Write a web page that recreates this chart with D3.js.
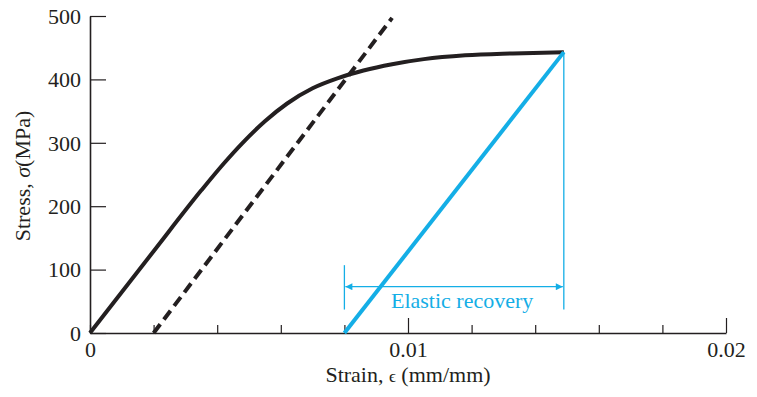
<!DOCTYPE html>
<html>
<head>
<meta charset="utf-8">
<script src="https://cdn.jsdelivr.net/npm/d3@7"></script>
<style>
  body { margin: 0; background: #fff; }
  svg { display: block; font-family: "Liberation Serif", "Times New Roman", serif; }
</style>
</head>
<body>
<div id="chart"></div>
<script>
// Stress-strain curve (strain in mm/mm, stress in MPa)
const curveStrain = [0, 0.002, 0.0035, 0.0042, 0.0048, 0.0055, 0.0062, 0.0070, 0.0078, 0.0086, 0.0095, 0.0105, 0.0118, 0.0133, 0.0149];
const curveStress = [0, 129, 225, 267, 300, 334, 362, 386, 402, 414, 424, 432, 438, 441, 443];

// 0.2% offset line
const offsetStrain = [0.002, 0.0095];
const offsetStress = [0, 497];

// unloading line
const unloadStrain = [0.008, 0.0149];
const unloadStress = [0, 443];

// elastic recovery span
const recoveryFrom = 0.008;
const recoveryTo = 0.0149;

const xTicks = [0, 0.002, 0.004, 0.006, 0.008, 0.01, 0.012, 0.014, 0.016, 0.018, 0.02];
const xMajor = [0, 0.01, 0.02];
const yTicks = [0, 100, 200, 300, 400, 500];

const W = 757, H = 397;
const margin = { top: 16, right: 31, bottom: 64, left: 90 };
const width = W - margin.left - margin.right;
const height = H - margin.top - margin.bottom;

const black = "#231f20";
const blue = "#14aee6";
const fs = "22px";

const svg = d3.select("#chart").append("svg")
    .attr("width", W)
    .attr("height", H);

const chart = svg.append("g")
    .attr("transform", `translate(${margin.left},${margin.top})`);

const x = d3.scaleLinear().domain([0, 0.02]).range([0, width]);
const y = d3.scaleLinear().domain([0, 500]).range([height, 0]);

const isMajor = d => xMajor.some(m => Math.abs(m - d) < 1e-9);

// x axis, ticks pointing up
const xAxis = chart.append("g")
    .attr("transform", `translate(0,${height})`)
    .call(d3.axisBottom(x)
        .tickValues(xTicks)
        .tickSizeInner(-8)
        .tickSizeOuter(0)
        .tickPadding(8)
        .tickFormat(d => isMajor(d) ? (d === 0 ? "0" : d3.format(".2f")(d)) : ""));
xAxis.selectAll(".tick line")
    .filter(d => d > 0 && isMajor(d))
    .attr("y2", -15);

// y axis, ticks pointing right
const yAxis = chart.append("g")
    .call(d3.axisLeft(y)
        .tickValues(yTicks)
        .tickSizeInner(-16)
        .tickSizeOuter(0)
        .tickPadding(9));

[xAxis, yAxis].forEach(a => {
    a.select(".domain").attr("stroke", black).attr("stroke-width", 1.6);
    a.selectAll(".tick line").attr("stroke", black).attr("stroke-width", 1.2);
    a.selectAll(".tick text")
        .attr("fill", black)
        .style("font-size", fs)
        .style("font-family", "Liberation Serif, serif");
});
yAxis.selectAll(".tick text").attr("dy", "0.33em");

// main curve
chart.append("path")
    .datum(d3.zip(curveStrain, curveStress))
    .attr("fill", "none")
    .attr("stroke", black)
    .attr("stroke-width", 4)
    .attr("d", d3.line().x(d => x(d[0])).y(d => y(d[1])).curve(d3.curveMonotoneX));

// offset line
chart.append("path")
    .datum(d3.zip(offsetStrain, offsetStress))
    .attr("fill", "none")
    .attr("stroke", black)
    .attr("stroke-width", 4)
    .attr("stroke-dasharray", "11,6")
    .attr("d", d3.line().x(d => x(d[0])).y(d => y(d[1])));

// unloading line
chart.append("path")
    .datum(d3.zip(unloadStrain, unloadStress))
    .attr("fill", "none")
    .attr("stroke", blue)
    .attr("stroke-width", 4)
    .attr("d", d3.line().x(d => x(d[0])).y(d => y(d[1])));

// elastic recovery dimension
const arrowY = y(73);
const defs = svg.append("defs");
defs.append("marker")
    .attr("id", "arr")
    .attr("viewBox", "0 0 10 10")
    .attr("refX", 10).attr("refY", 5)
    .attr("markerWidth", 12).attr("markerHeight", 7)
    .attr("markerUnits", "userSpaceOnUse")
    .attr("orient", "auto-start-reverse")
    .append("path")
    .attr("d", "M0,0 L10,5 L0,10 Z")
    .attr("fill", blue);

chart.append("line")
    .attr("x1", x(recoveryFrom)).attr("x2", x(recoveryFrom))
    .attr("y1", y(107)).attr("y2", y(37))
    .attr("stroke", blue).attr("stroke-width", 1.3);
chart.append("line")
    .attr("x1", x(recoveryTo)).attr("x2", x(recoveryTo))
    .attr("y1", y(443)).attr("y2", y(37))
    .attr("stroke", blue).attr("stroke-width", 1.3);
chart.append("line")
    .attr("x1", x(recoveryFrom) + 1).attr("x2", x(recoveryTo) - 1)
    .attr("y1", arrowY).attr("y2", arrowY)
    .attr("stroke", blue).attr("stroke-width", 1.3)
    .attr("marker-start", "url(#arr)")
    .attr("marker-end", "url(#arr)");
chart.append("text")
    .attr("x", (x(recoveryFrom) + x(recoveryTo)) / 2 + 8)
    .attr("y", arrowY + 21)
    .attr("text-anchor", "middle")
    .attr("fill", blue)
    .style("font-size", fs)
    .text("Elastic recovery");

// axis titles
const xt = svg.append("text")
    .attr("x", margin.left + width / 2)
    .attr("y", 382)
    .attr("text-anchor", "middle")
    .attr("fill", black)
    .style("font-size", fs);
xt.append("tspan").text("Strain, ");
xt.append("tspan").text("ϵ").style("font-size", "17px");
xt.append("tspan").text(" (mm/mm)");

const yt = svg.append("text")
    .attr("transform", `translate(30,${margin.top + 160}) rotate(-90)`)
    .attr("text-anchor", "middle")
    .attr("fill", black)
    .style("font-size", fs);
yt.append("tspan").text("Stress, ");
yt.append("tspan").text("σ").style("font-style", "italic");
yt.append("tspan").text("(MPa)");
</script>
</body>
</html>
